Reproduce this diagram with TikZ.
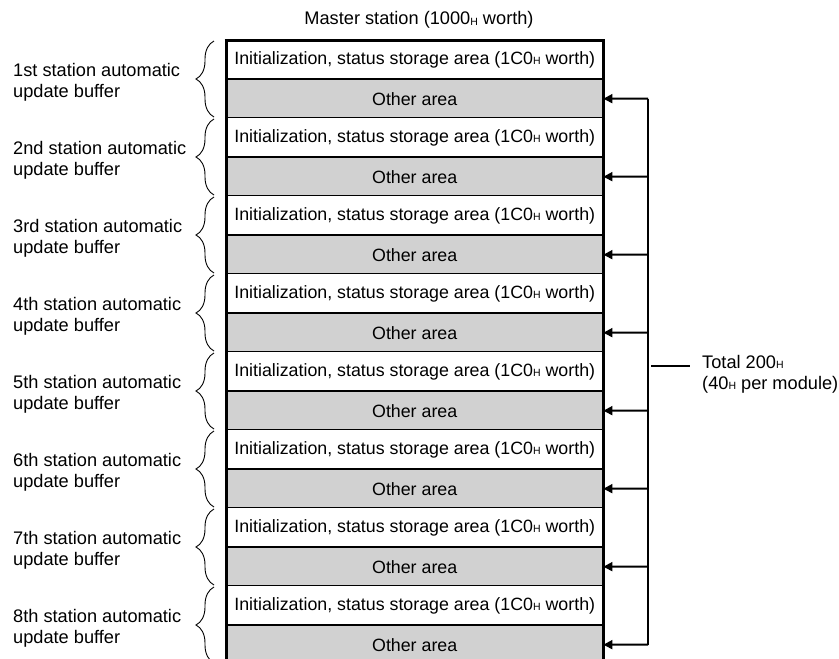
\documentclass[tikz,border=0pt]{standalone}
\usepackage{fontspec}
\setmainfont{Liberation Sans}
\usetikzlibrary{arrows.meta,decorations.pathreplacing}
\newcommand\subH{\raisebox{-0.5pt}{\fontsize{10.5}{12}\selectfont H}}
\begin{document}
\begin{tikzpicture}[x=1pt,y=-1pt,
  every node/.style={font=\fontsize{18.2}{21}\selectfont, inner sep=0pt},
  initrow/.style={minimum width=377pt, minimum height=39pt, anchor=north west, fill=white, font=\fontsize{17.8}{21}\selectfont},
  otherrow/.style={minimum width=377pt, minimum height=39pt, anchor=north west, fill=black!18, font=\fontsize{17.8}{21}\selectfont},
  divider/.style={line width=2pt},
  border/.style={line width=3pt},
  bracestyle/.style={decorate, decoration={brace, amplitude=18pt}, line width=0.9pt},
  conn/.style={line width=2pt},
  arr/.style={line width=2pt, -{Triangle[length=9pt,width=9pt]}},
  label/.style={align=left, anchor=west},
]
\useasboundingbox (0,0) rectangle (839,659);
\clip (0,0) rectangle (839,659);
\node (master) at (419,20) {Master station (1000\subH{} worth)};
\foreach \k/\name in {0/1st,1/2nd,2/3rd,3/4th,4/5th,5/6th,6/7th,7/8th}{
  \pgfmathsetmacro\ytop{40+78*\k}
  \node[initrow] (init\k) at (226,\ytop) {Initialization, status storage area (1C0\subH{} worth)};
  \node[otherrow] (other\k) at (226,\ytop+39) {Other area};
  \draw[divider] (init\k.south west) -- (init\k.south east);
  \draw[divider] (other\k.north west) -- (other\k.north east);
  \draw[divider] (other\k.south west) -- (other\k.south east);
  \draw[bracestyle] (214,\ytop+77) -- (214,\ytop+1);
  \node[label] (lab\k) at (13,\ytop+42.5) {\name{} station automatic\\update buffer};
  \coordinate (c\k) at (648,\ytop+58.5);
  \draw[arr] (c\k) -- (other\k.east);
}
\draw[border] (226,40) -- (226,670);
\draw[border] (603,40) -- (603,670);
\draw[border] (224.5,40) -- (604.5,40);
\draw[conn] (c0) -- (c7);
\coordinate (tl) at (651,366);
\coordinate (tr) at (690,366);
\draw[conn] (tl) -- (tr);
\node[align=left, anchor=west] (total) at (702,374) {Total 200\subH\\(40\subH{} per module)};
\end{tikzpicture}
\end{document}
